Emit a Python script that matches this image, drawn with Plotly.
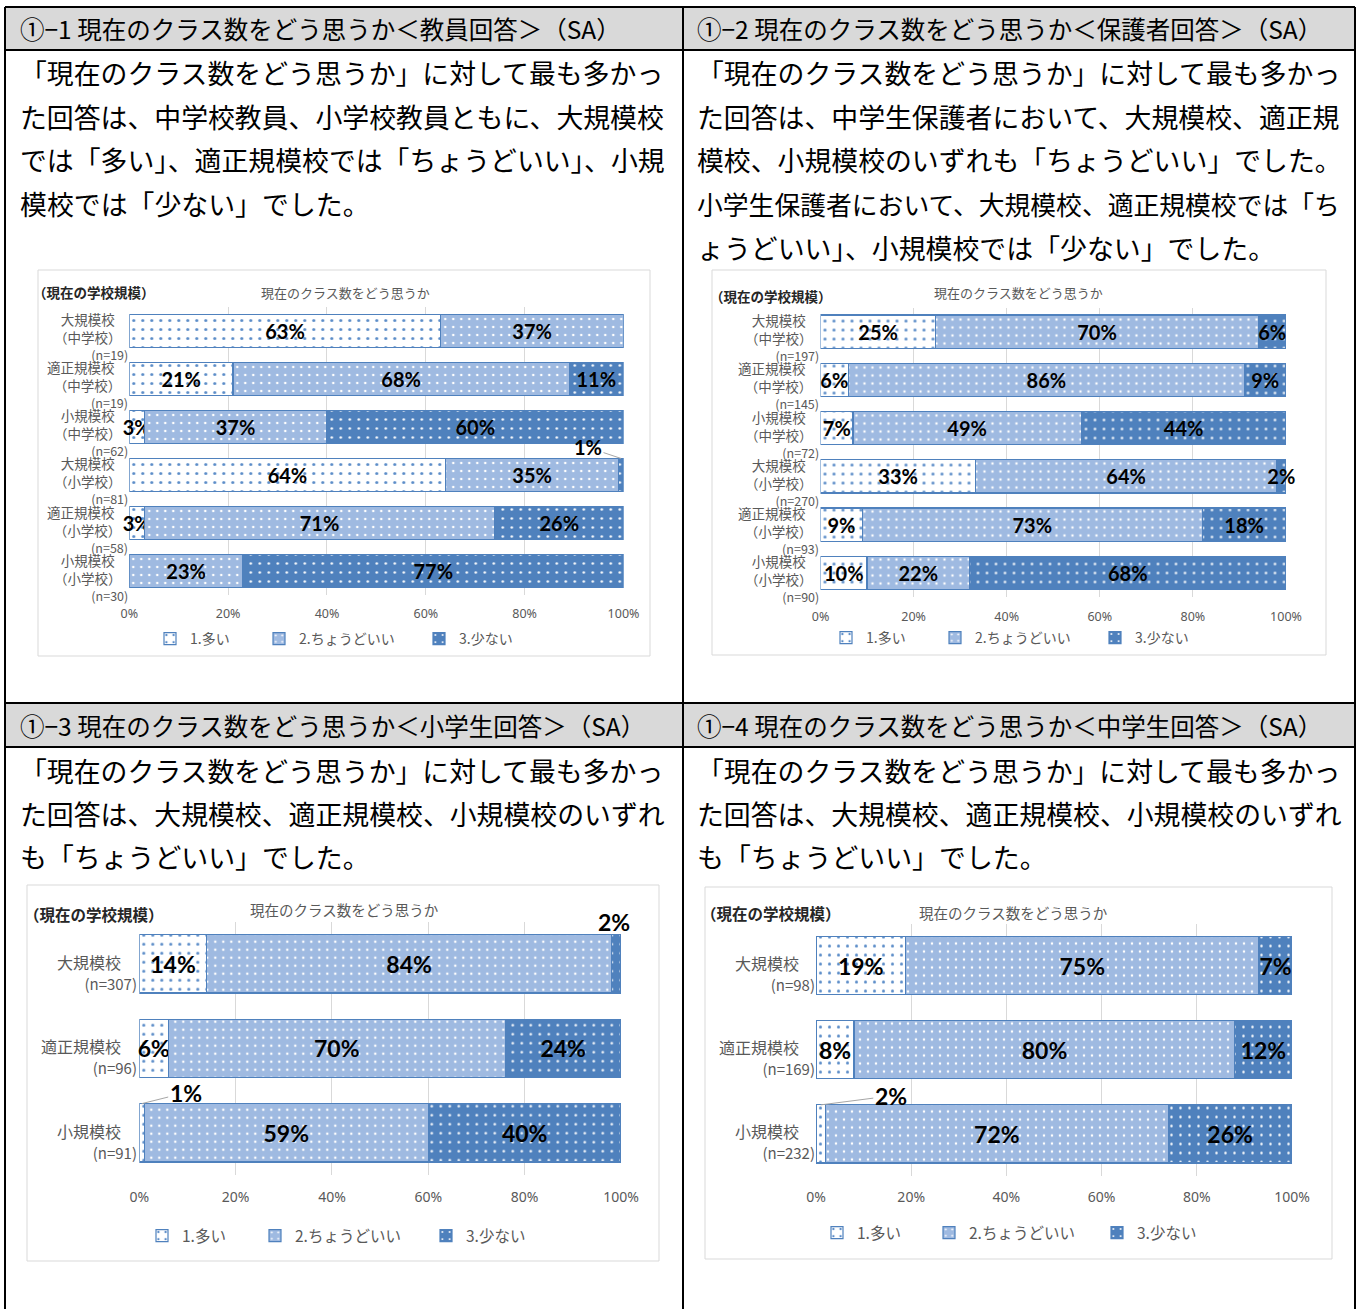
import plotly.graph_objects as go

W, H = 1360, 1309

# ---------------- data ----------------
series_names = ["1.多い", "2.ちょうどいい", "3.少ない"]
chart_title = "現在のクラス数をどう思うか"
chart_side_title = "（現在の学校規模）"
tick_values = [0, 20, 40, 60, 80, 100]
tick_labels = ["0%", "20%", "40%", "60%", "80%", "100%"]

# ①-1 teachers
h1 = "①−1 現在のクラス数をどう思うか＜教員回答＞（SA）"
p1 = ["「現在のクラス数をどう思うか」に対して最も多かっ",
      "た回答は、中学校教員、小学校教員ともに、大規模校",
      "では「多い」、適正規模校では「ちょうどいい」、小規",
      "模校では「少ない」でした。"]
c1_size = ["大規模校", "適正規模校", "小規模校", "大規模校", "適正規模校", "小規模校"]
c1_type = ["（中学校）", "（中学校）", "（中学校）", "（小学校）", "（小学校）", "（小学校）"]
c1_n = [19, 19, 62, 81, 58, 30]
c1_many = [63, 21, 3, 64, 3, 0]
c1_just = [37, 68, 37, 35, 71, 23]
c1_few = [0, 11, 60, 1, 26, 77]
c1_callouts = [(3, 2)]

# ①-2 parents
h2 = "①−2 現在のクラス数をどう思うか＜保護者回答＞（SA）"
p2 = ["「現在のクラス数をどう思うか」に対して最も多かっ",
      "た回答は、中学生保護者において、大規模校、適正規",
      "模校、小規模校のいずれも「ちょうどいい」でした。",
      "小学生保護者において、大規模校、適正規模校では「ち",
      "ょうどいい」、小規模校では「少ない」でした。"]
c2_size = ["大規模校", "適正規模校", "小規模校", "大規模校", "適正規模校", "小規模校"]
c2_type = ["（中学校）", "（中学校）", "（中学校）", "（小学校）", "（小学校）", "（小学校）"]
c2_n = [197, 145, 72, 270, 93, 90]
c2_many = [25, 6, 7, 33, 9, 10]
c2_just = [70, 86, 49, 64, 73, 22]
c2_few = [6, 9, 44, 2, 18, 68]
c2_callouts = []

# ①-3 elementary pupils
h3 = "①−3 現在のクラス数をどう思うか＜小学生回答＞（SA）"
p3 = ["「現在のクラス数をどう思うか」に対して最も多かっ",
      "た回答は、大規模校、適正規模校、小規模校のいずれ",
      "も「ちょうどいい」でした。"]
c3_size = ["大規模校", "適正規模校", "小規模校"]
c3_type = ["", "", ""]
c3_n = [307, 96, 91]
c3_many = [14, 6, 1]
c3_just = [84, 70, 59]
c3_few = [2, 24, 40]
c3_callouts = [(0, 2), (2, 0)]

# ①-4 junior high pupils
h4 = "①−4 現在のクラス数をどう思うか＜中学生回答＞（SA）"
p4 = ["「現在のクラス数をどう思うか」に対して最も多かっ",
      "た回答は、大規模校、適正規模校、小規模校のいずれ",
      "も「ちょうどいい」でした。"]
c4_size = ["大規模校", "適正規模校", "小規模校"]
c4_type = ["", "", ""]
c4_n = [98, 169, 232]
c4_many = [19, 8, 2]
c4_just = [75, 80, 72]
c4_few = [7, 12, 26]
c4_callouts = [(2, 0)]

# ---------------- styling / layout ----------------
FONT_JP = "Noto Sans CJK JP"
FONT_NUM = "Lato"
GRAY = "#595959"
PARA_W = 645.0
PARA_MAX_F = 26.9


def fx(p):
    return p / W


def fy(p):
    return 1 - p / H


def line_ems(s):
    # closing bracket followed by comma/period gets trimmed by the browser
    return len(s) - 0.5 * (s.count("」、") + s.count("」。"))


charts = [
    dict(header=h1, para=p1, size=c1_size, typ=c1_type, n=c1_n,
         vals=[c1_many, c1_just, c1_few], callouts=c1_callouts),
    dict(header=h2, para=p2, size=c2_size, typ=c2_type, n=c2_n,
         vals=[c2_many, c2_just, c2_few], callouts=c2_callouts),
    dict(header=h3, para=p3, size=c3_size, typ=c3_type, n=c3_n,
         vals=[c3_many, c3_just, c3_few], callouts=c3_callouts),
    dict(header=h4, para=p4, size=c4_size, typ=c4_type, n=c4_n,
         vals=[c4_many, c4_just, c4_few], callouts=c4_callouts),
]

specs = [
    dict(box=(38, 270, 650, 656), plot=(129.3, 307, 623.5, 595),
         lab_r=130, name_f=13.5, n_f=12.5, lab_shift=-6,
         bar_f=20, tick_f=12.5, standoff=9, leg=(150, 639), leg_f=14, leg_w=[64, 115, 60],
         side=(31, 292), side_f=13.5, title=(345, 292), head_f=13,
         head=(18, 29), para_y=73, para_dy=43.5, para_x=18,
         call={(3, 2): dict(ax=-33, ay=-11, arrow=True)}),
    dict(box=(712, 270, 1326, 655), plot=(820.5, 307.5, 1286, 597),
         lab_r=821, name_f=13.5, n_f=12.5, lab_shift=-6,
         bar_f=20, tick_f=12.5, standoff=10, leg=(826, 638), leg_f=14, leg_w=[64, 115, 60],
         side=(708, 296), side_f=13.5, title=(1018, 292), head_f=13,
         head=(695, 29), para_y=73, para_dy=43.5, para_x=695,
         call={}),
    dict(box=(27, 885, 659, 1261), plot=(139.3, 921.7, 621, 1175),
         lab_r=139, name_f=16, n_f=15, lab_shift=-8,
         bar_f=23, tick_f=14, standoff=12, leg=(142, 1236), leg_f=15.5, leg_w=[68, 126, 70],
         side=(22, 914), side_f=15.5, title=(344, 909), head_f=14.5,
         head=(18, 725), para_y=770, para_dy=43, para_x=18,
         call={(0, 2): dict(ax=0, ay=0, arrow=False),
               (2, 0): dict(ax=44, ay=-11, arrow=True)}),
    dict(box=(705, 887, 1332, 1259), plot=(816, 923.5, 1292, 1176),
         lab_r=817, name_f=16, n_f=15, lab_shift=-7,
         bar_f=23, tick_f=14, standoff=11, leg=(817, 1233), leg_f=15.5, leg_w=[67, 123, 70],
         side=(699, 913), side_f=15.5, title=(1013, 912), head_f=14.5,
         head=(695, 725), para_y=770, para_dy=43, para_x=695,
         call={(2, 0): dict(ax=70, ay=-9, arrow=True)}),
]

patterns = [
    dict(bg="#ffffff", fg="#5b8cc8", size=9, sol=0.09),
    dict(bg="#9fbae1", fg="#ffffff", size=8, sol=0.08),
    dict(bg="#4f81bd", fg="#ffffff", size=9, sol=0.06),
]
EDGE = "#4f81bd"

fig = go.Figure()
annotations = []
shapes = []
layout_axes = {}
legends = {}

for ci, (cd, sp) in enumerate(zip(charts, specs)):
    k = ci + 1
    sfx = "" if k == 1 else str(k)
    xname, yname = "x" + sfx, "y" + sfx
    legname = "legend" + sfx
    cats = [s + t for s, t in zip(cd["size"], cd["typ"])]
    vals = cd["vals"]
    totals = [sum(v[i] for v in vals) for i in range(len(cats))]

    for si in range(3):
        v = vals[si]
        txt = [f"{x}%" if (x > 0 and (i, si) not in cd["callouts"]) else ""
               for i, x in enumerate(v)]
        pt = patterns[si]
        fig.add_trace(go.Bar(
            x=v, y=cats, orientation="h", name=series_names[si],
            xaxis=xname, yaxis=yname, legend=legname, legendwidth=sp["leg_w"][si],
            marker=dict(color=pt["bg"], line=dict(color=EDGE, width=1.2),
                        pattern=dict(shape=".", bgcolor=pt["bg"], fgcolor=pt["fg"],
                                     size=pt["size"], solidity=pt["sol"],
                                     fillmode="replace")),
            text=txt, textposition="inside", insidetextanchor="middle",
            textangle=0, constraintext="none", cliponaxis=False,
            textfont=dict(family=FONT_NUM, size=sp["bar_f"], color="black", weight="bold"),
            hoverinfo="skip",
        ))

    x0, y0, x1, y1 = sp["plot"]
    layout_axes["xaxis" + sfx] = dict(
        domain=[fx(x0), fx(x1)], range=[0, 100], autorange=False, anchor=yname,
        automargin=False,
        tickmode="array", tickvals=tick_values, ticktext=tick_labels,
        showgrid=True, gridcolor="#d9d9d9", gridwidth=1, zeroline=False,
        showline=False, ticks="", ticklabelstandoff=sp["standoff"],
        tickfont=dict(family="Noto Sans", size=sp["tick_f"], color=GRAY),
        fixedrange=True)
    layout_axes["yaxis" + sfx] = dict(
        domain=[fy(y1), fy(y0)], anchor=xname, type="category", automargin=False,
        categoryorder="array", categoryarray=cats,
        range=[len(cats) - 0.5, -0.5], autorange=False,
        showticklabels=False, showgrid=False,
        zeroline=False, showline=False, fixedrange=True)

    legends[legname] = dict(
        orientation="h", x=fx(sp["leg"][0]), y=fy(sp["leg"][1]),
        xanchor="left", yanchor="middle", bgcolor="rgba(0,0,0,0)",
        font=dict(family=FONT_JP, size=sp["leg_f"], color=GRAY),
        itemwidth=30, traceorder="normal", itemclick=False, itemdoubleclick=False)

    # category labels (one block per category)
    for i, cat in enumerate(cats):
        lines = [cd["size"][i] + "\u3000"]
        if cd["typ"][i]:
            lines.append(cd["typ"][i] + "\u3000")
        lines.append(f"<span style='font-size:{sp['n_f']}px'>(n={cd['n'][i]})</span>")
        annotations.append(dict(
            x=fx(sp["lab_r"]), xref="paper", y=i, yref=yname, yshift=sp["lab_shift"],
            text="<br>".join(lines), showarrow=False, xanchor="right", yanchor="middle",
            align="right", font=dict(family=FONT_JP, size=sp["name_f"], color=GRAY)))

    # callout labels
    for (row, si) in cd["callouts"]:
        cum = sum(vals[j][row] for j in range(si))
        xt = (cum + vals[si][row] / 2) / totals[row] * 100
        c = sp["call"][(row, si)]
        lbl = f"{vals[si][row]}%"
        if c["arrow"]:
            annotations.append(dict(
                x=xt, xref=xname, y=row - 0.345, yref=yname, text=lbl,
                showarrow=True, arrowhead=0, arrowwidth=1, arrowcolor="#a6a6a6",
                ax=c["ax"], ay=c["ay"], standoff=0,
                font=dict(family=FONT_NUM, size=sp["bar_f"], color="black", weight="bold")))
        else:
            annotations.append(dict(
                x=xt, xref=xname, y=row - 0.345, yref=yname, text=lbl,
                showarrow=False, xanchor="center", yanchor="bottom", xshift=-2, yshift=-3,
                font=dict(family=FONT_NUM, size=sp["bar_f"], color="black", weight="bold")))

    # chart titles
    annotations.append(dict(
        x=fx(sp["side"][0]), y=fy(sp["side"][1]), xref="paper", yref="paper",
        text=chart_side_title, showarrow=False, xanchor="left", yanchor="middle",
        font=dict(family=FONT_JP, size=sp["side_f"], color="#262626", weight="bold")))
    annotations.append(dict(
        x=fx(sp["title"][0]), y=fy(sp["title"][1]), xref="paper", yref="paper",
        text=chart_title, showarrow=False, xanchor="center", yanchor="middle",
        font=dict(family=FONT_JP, size=sp["head_f"], color=GRAY)))

    # chart box
    bx0, by0, bx1, by1 = sp["box"]
    shapes.append(dict(type="rect", xref="paper", yref="paper",
                       x0=fx(bx0), x1=fx(bx1), y0=fy(by1), y1=fy(by0),
                       line=dict(color="#d9d9d9", width=1), fillcolor="rgba(0,0,0,0)",
                       layer="below"))

    # table header and paragraph text
    annotations.append(dict(
        x=fx(sp["head"][0]), y=fy(sp["head"][1]), xref="paper", yref="paper",
        text=cd["header"], showarrow=False, xanchor="left", yanchor="middle",
        font=dict(family=FONT_JP, size=24.5, color="black")))
    for li, line in enumerate(cd["para"]):
        fs = min(PARA_MAX_F, PARA_W / line_ems(line))
        annotations.append(dict(
            x=fx(sp["para_x"]), y=fy(sp["para_y"] + li * sp["para_dy"]),
            xref="paper", yref="paper", text=line, showarrow=False,
            xanchor="left", yanchor="middle",
            font=dict(family=FONT_JP, size=fs, color="black")))

# table structure
for (ty0, ty1) in [(7, 50), (703, 747)]:
    shapes.append(dict(type="rect", xref="paper", yref="paper",
                       x0=fx(5), x1=fx(1355), y0=fy(ty1), y1=fy(ty0),
                       fillcolor="#d9d9d9", line=dict(width=0), layer="below"))
for yy in [7, 50, 703, 747]:
    shapes.append(dict(type="line", xref="paper", yref="paper",
                       x0=fx(5), x1=fx(1355), y0=fy(yy), y1=fy(yy),
                       line=dict(color="black", width=2)))
for xx in [5, 683, 1355]:
    shapes.append(dict(type="line", xref="paper", yref="paper",
                       x0=fx(xx), x1=fx(xx), y0=fy(7), y1=fy(1309),
                       line=dict(color="black", width=2)))

fig.update_layout(
    width=W, height=H, autosize=False, margin=dict(l=0, r=0, t=0, b=0, autoexpand=False),
    paper_bgcolor="white", plot_bgcolor="white",
    barmode="stack", barnorm="percent", bargap=0.31,
    showlegend=True, annotations=annotations, shapes=shapes,
    **layout_axes, **legends,
)

fig.write_html(
    "out.html",
    config={"responsive": False, "displayModeBar": False},
    post_script="document.body.style.margin='0';document.body.style.overflow='hidden';",
)
